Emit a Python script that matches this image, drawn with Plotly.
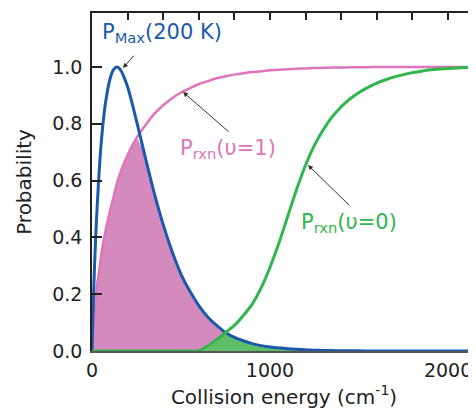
import plotly.graph_objects as go

# Collision energy grid (cm^-1)
energy = [0, 5, 10, 15, 20, 25, 30, 40, 50, 60, 75, 100, 120, 140, 160, 200, 250, 300,
          350, 400, 450, 500, 550, 600, 650, 700, 750, 800, 850, 900, 950, 1000, 1050,
          1100, 1150, 1200, 1250, 1300, 1350, 1400, 1450, 1500, 1550, 1600, 1650, 1700,
          1750, 1800, 1850, 1900, 1950, 2000, 2100, 2200]

# P_Max(200 K) - collision energy distribution (normalised)
p_max = [0, 0.12, 0.22, 0.31, 0.39, 0.46, 0.52, 0.63, 0.72, 0.79, 0.87, 0.955, 0.99,
         1.0, 0.99, 0.93, 0.81, 0.68, 0.555, 0.445, 0.35, 0.27, 0.21, 0.16, 0.12, 0.09,
         0.065, 0.048, 0.036, 0.026, 0.019, 0.014, 0.011, 0.008, 0.006, 0.004, 0.003,
         0.002, 0.0015, 0.001, 0.0007, 0.0005, 0.0004, 0.0003, 0.0002, 0.0002, 0.0001,
         0.0001, 0, 0, 0, 0, 0, 0]

# P_rxn(v=1)
p_rxn1 = [0, 0.07, 0.11, 0.15, 0.18, 0.21, 0.24, 0.28, 0.33, 0.37, 0.42, 0.49, 0.54,
          0.59, 0.63, 0.69, 0.75, 0.795, 0.835, 0.865, 0.89, 0.91, 0.925, 0.94, 0.95,
          0.96, 0.967, 0.973, 0.978, 0.982, 0.985, 0.988, 0.99, 0.992, 0.994, 0.995,
          0.996, 0.997, 0.998, 0.998, 0.999, 0.999, 0.999, 1.0, 1.0, 1.0, 1.0, 1.0, 1.0,
          1.0, 1.0, 1.0, 1.0, 1.0]

# P_rxn(v=0)
p_rxn0 = [0, 0, 0, 0, 0, 0, 0, 0, 0, 0, 0, 0, 0, 0, 0, 0, 0, 0, 0, 0, 0, 0, 0, 0,
          0.018, 0.04, 0.065, 0.09, 0.125, 0.165, 0.222, 0.295, 0.38, 0.475, 0.57,
          0.655, 0.725, 0.78, 0.825, 0.86, 0.888, 0.91, 0.928, 0.943, 0.955, 0.965,
          0.973, 0.98, 0.985, 0.99, 0.993, 0.995, 0.998, 1.0]

x_ticks = [0, 1000, 2000]
y_ticks = [0.0, 0.2, 0.4, 0.6, 0.8, 1.0]

BLUE = "#1b5aab"
PINK = "#e074bc"
PINK_FILL = "#d48abd"
GREEN = "#2fb64c"
GREEN_FILL = "#5fbf68"
FONT = "DejaVu Sans"

overlap1 = [min(a, b) for a, b in zip(p_rxn1, p_max)]
overlap0 = [min(a, b) for a, b in zip(p_rxn0, p_max)]

fig = go.Figure()
fig.add_trace(go.Scatter(x=energy, y=overlap1, mode="lines", fill="tozeroy",
                         fillcolor=PINK_FILL, line=dict(width=0, shape="spline", smoothing=0.6),
                         hoverinfo="skip", showlegend=False))
fig.add_trace(go.Scatter(x=energy, y=overlap0, mode="lines", fill="tozeroy",
                         fillcolor=GREEN_FILL, line=dict(width=0, shape="spline", smoothing=0.6),
                         hoverinfo="skip", showlegend=False))
fig.add_trace(go.Scatter(x=energy, y=p_rxn1, mode="lines",
                         line=dict(color=PINK, width=2.5, shape="spline", smoothing=0.6),
                         showlegend=False))
fig.add_trace(go.Scatter(x=energy, y=p_max, mode="lines",
                         line=dict(color=BLUE, width=3, shape="spline", smoothing=0.6),
                         showlegend=False))
fig.add_trace(go.Scatter(x=energy, y=p_rxn0, mode="lines",
                         line=dict(color=GREEN, width=3, shape="spline", smoothing=0.6),
                         showlegend=False))
# invisible trace to hold the top axis
fig.add_trace(go.Scatter(x=[0], y=[0], xaxis="x2", mode="markers",
                         marker=dict(opacity=0), hoverinfo="skip", showlegend=False))

XR = [0, 2157]
# page body has an 8px default margin: figure is sized/offset to compensate
fig.update_layout(
    width=468, height=401,
    margin=dict(l=84, r=0, t=5, b=58),
    paper_bgcolor="white", plot_bgcolor="white",
    font=dict(family=FONT, size=19, color="#222"),
    xaxis=dict(range=XR, showgrid=False, zeroline=False, showline=True,
               linecolor="#555", linewidth=1.5, ticks="", tickvals=x_ticks,
               ticktext=[str(v) for v in x_ticks], ticklabelstandoff=1,
               tickfont=dict(size=19), automargin=False,
               title=dict(text="Collision energy (cm<sup>-1</sup>)",
                          font=dict(size=20), standoff=10)),
    xaxis2=dict(range=XR, overlaying="x", side="top", showgrid=False, zeroline=False,
                showline=True, linecolor="#222", linewidth=1.5, ticks="inside",
                ticklen=7, tickwidth=1.5, tickcolor="#222", dtick=200, tick0=0,
                showticklabels=False, automargin=False),
    yaxis=dict(range=[0, 1.19], showgrid=False, zeroline=False, showline=True,
               linecolor="#222", linewidth=1.5, ticks="inside", ticklen=10,
               tickwidth=1.5, tickcolor="#222", tickvals=y_ticks,
               ticktext=["%.1f" % v for v in y_ticks], ticklabelstandoff=4,
               tickfont=dict(size=19), automargin=False,
               title=dict(text="Probability", font=dict(size=20), standoff=15)),
)

arrows = [
    dict(x=174, y=0.996, ax=242, ay=1.045),
    dict(x=511, y=0.912, ax=775, ay=0.768),
    dict(x=1213, y=0.655, ax=1455, ay=0.507),
]
for a in arrows:
    fig.add_annotation(x=a["x"], y=a["y"], ax=a["ax"], ay=a["ay"], axref="x", ayref="y",
                       text="", showarrow=True, arrowhead=2, arrowsize=1,
                       arrowwidth=1, arrowcolor="#333")

labels = [
    dict(text="P<sub>Max</sub>(200 K)", x=45, y=1.12, color=BLUE),
    dict(text="P<sub>rxn</sub>(υ=1)", x=483, y=0.71, color=PINK),
    dict(text="P<sub>rxn</sub>(υ=0)", x=1163, y=0.45, color=GREEN),
]
for l in labels:
    fig.add_annotation(x=l["x"], y=l["y"], text=l["text"], showarrow=False,
                       xanchor="left", yanchor="middle",
                       font=dict(family=FONT, size=21, color=l["color"]))

fig.write_html("out.html")
